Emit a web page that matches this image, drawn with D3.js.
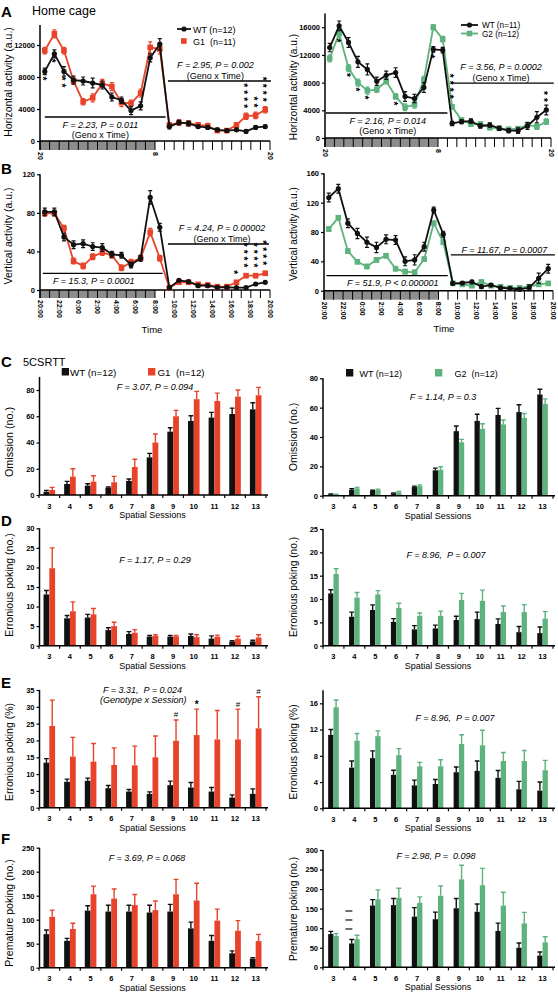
<!DOCTYPE html>
<html><head><meta charset="utf-8">
<script src="https://cdn.jsdelivr.net/npm/d3@7"></script>
<style>body{margin:0;background:#fff}text{font-family:"Liberation Sans",Arial,Helvetica,sans-serif;white-space:pre}</style>
</head><body>
<script>
// ---------------- DATA ----------------
const hourSlots = [0,1,2,3,4,5,6,7,8,9,10,11,12,13,14,15,16,17,18,19,20,21,22,23];
const shortTimeHours = [0,12,24];
const shortTimeLabels = ["20","8","20"];
const longTimeHours = [0,2,4,6,8,10,12,14,16,18,20,22,24];
const longTimeLabels = ["20:00","22:00","0:00","2:00","4:00","6:00","8:00","10:00","12:00","14:00","16:00","18:00","20:00"];

// A left: horizontal activity WT vs G1
const horizWT1 = [8700,10900,8700,7600,7500,7250,7000,5500,5100,3800,4400,10400,12100,1800,2300,2200,1800,1700,1400,1300,1400,1200,1700,1800];
const horizWT1Err = [400,500,600,500,500,600,500,500,400,500,500,500,700,300,300,300,200,200,200,200,200,200,200,200];
const horizG1 = [11300,13400,11300,7500,4900,5400,7200,6800,4800,4700,6000,11700,11500,2000,2300,2200,2000,1900,1300,1300,2000,3100,3200,3900];
const horizG1Err = [400,500,400,400,400,500,500,500,500,400,500,700,600,300,300,300,300,300,200,200,300,400,400,400];
// A right: WT vs G2
const horizWT2 = [13060,16200,13800,11000,9900,8200,9060,9450,6000,5700,7300,12800,12700,2100,2360,2450,1740,1880,1400,1060,1060,1740,3000,4050];
const horizWT2Err = [600,700,700,800,800,600,600,700,700,600,700,400,400,300,300,300,300,300,300,300,400,500,800,700];
const horizG2 = [11500,15100,10100,8000,6850,7000,8200,6000,4450,4800,8400,16000,14270,4500,2600,2020,2020,1500,1400,1250,1350,1900,1650,2360];
const horizG2Err = [500,600,500,500,500,400,400,400,500,500,500,400,400,300,300,300,300,300,300,300,300,400,400,400];
// B left: vertical activity WT vs G1
const vertWT1 = [81,81,55,47,48,45,44,37,36,26,33,96,65,2.4,10,8.6,4.5,4.5,2.8,2.8,2.4,2.4,6.2,8];
const vertWT1Err = [4,4,4,4,4,4,4,3,3,3,3,7,4,1,1,1,1,1,1,1,1,1,1,1];
const vertG1 = [79.5,79.5,64,30,25,34.6,39,36,23,28.7,33,60,33,2.4,8,8,5.9,5.2,3.5,3.5,8,14.9,14.9,17.3];
const vertG1Err = [3,3,3,3,3,3,3,3,3,3,3,4,3,1,1,1,1,1,1,1,1,2,2,2];
// B right: WT vs G2
const vertWT2 = [127,139,92,78,66,59,70,69,40,42,60,110,77,10,10.5,12,5.5,7.7,4,3,2,4,17,30];
const vertWT2Err = [6,6,6,7,7,7,6,6,6,7,6,4,4,2,2,2,2,2,2,2,2,4,7,6];
const vertG2 = [84,99.5,54,39.5,33,42,47.7,30,26,25,43,92,66,10,8.6,6.8,12,6.8,5.5,4,4,5.5,8.6,10];
const vertG2Err = [3,3,3,3,3,3,3,3,3,3,3,3,3,2,2,2,2,2,2,2,2,2,2,2];

// 5CSRTT sessions
const sessions = [3,4,5,6,7,8,9,10,11,12,13];
const omiWT1 = [2.5,8.4,7.1,5.6,10.7,28.7,48.3,56.4,59,61.7,65.3];
const omiWT1Err = [1,2,1.5,0.5,1.5,3,3,4,4,4.5,5];
const omiG1 = [3.8,14,10.2,9.7,21.3,40,60,73,71.6,75,76];
const omiG1Err = [2,6,4.5,4.5,6,6.5,4.5,6,6,5,6];
const omiWT2 = [0.9,3.9,3.2,1.6,5.9,17.3,44,51,55,57,69];
const omiWT2Err = [0.3,0.8,0.5,0.3,0.6,1.5,3.5,4.5,4.5,5,3.5];
const omiG2 = [0.7,5,3.9,2.3,6.6,17.7,36.4,45.5,48.6,53,62.5];
const omiG2Err = [0.3,0.6,0.6,0.6,0.8,2,2,3.5,3,3,3.5];

const errNoWT1 = [13.1,7.0,7.2,4.0,3.0,2.3,2.3,2.5,1.8,1.1,1.1];
const errNoWT1Err = [1,0.7,0.8,0.6,0.6,0.3,0.3,0.5,0.7,0.2,0.3];
const errNoG1 = [19.8,8.8,8.0,5.0,3.3,2.5,2.4,2.2,2.3,1.8,2.1];
const errNoG1Err = [5.2,2.4,1.5,1.0,0.8,0.3,0.2,0.6,0.4,0.6,0.7];
const errNoWT2 = [11.2,6.2,7.65,5.1,3.5,3.7,5.5,5.7,4.65,2.9,2.7];
const errNoWT2Err = [0.8,1.0,1.1,0.7,0.8,0.7,0.8,1.5,1.1,1.2,1.3];
const errNoG2 = [15.4,10.3,11.0,8.1,6.4,6.4,9.8,9.6,7.2,7.2,5.8];
const errNoG2Err = [1.1,1.1,0.8,1.0,0.6,1.0,1.4,2.3,1.3,1.6,1.5];

const errPctWT1 = [13.4,7.7,8.0,5.8,4.8,4.1,6.7,6.0,4.8,3.0,4.1];
const errPctWT1Err = [1.2,0.8,0.8,0.8,0.6,0.6,1.2,1.5,1.2,0.8,1.5];
const errPctG1 = [24.3,15.2,13.7,12.7,12.6,15.0,19.9,21.6,20.3,20.3,23.6];
const errPctG1Err = [7.7,5.7,5.4,5.1,5.7,6.3,6.2,7.7,8.6,9.0,9.4];
const errPctSig = [{s:9,m:"#"},{s:10,m:"*"},{s:12,m:"#"},{s:13,m:"#"}];

const premWT1 = [70,56,119,117,117,115,117,82,56,30,19];
const premWT1Err = [8.5,5,10,13,13,15,15,13,11,5,2];
const premG1 = [106,80.6,153,144,130.5,120,153,140,98,77,55.5];
const premG1Err = [14,12,17,20,22,19,31,36,24,21,14];
const premWT2 = [85,61,158,159,129.5,123,151,142,93,50,30];
const premWT2Err = [7,10,15,17,23,18,25,20,20,12,9];
const premG2 = [80,72,174,178,165,183,225,210,158,112.5,64];
const premG2Err = [6,10,24,24,15,25,36,43,34,28,14];
const premDashes = [144,121,98];

// ---------------- DRAWING ----------------
const RED="#e8432a", GREEN="#5db27d", BLACK="#111111";
const svg=d3.select("body").append("svg").attr("width",558).attr("height",992);
svg.append("rect").attr("width",558).attr("height",992).attr("fill","#fff");

function txt(g,x,y,s,o={}){
  return g.append("text").attr("x",x).attr("y",y).text(s)
   .attr("font-size",o.size||9).attr("font-style",o.italic?"italic":null)
   .attr("font-weight",o.bold?"bold":null).attr("text-anchor",o.anchor||"start").attr("fill","#000");
}
function vtitle(g,x,y,s,size){
  g.append("text").attr("transform",`translate(${x},${y}) rotate(-90)`).attr("text-anchor","middle")
   .attr("font-size",size||10.5).text(s);
}
function styleAxis(ax){
  ax.select(".domain").remove();
  ax.attr("font-family","Liberation Sans, Arial, sans-serif").attr("font-size",7.5).attr("font-weight","bold");
  ax.selectAll("line").attr("stroke","#000").attr("stroke-width",1.2);
  ax.selectAll("text").attr("fill","#000");
}
// vertical stack of asterisks drawn as one rotated text run
function starStack(g,x,top,n){
  g.append("text").attr("transform",`translate(${x},${top-2}) rotate(90)`)
   .attr("dy","0.6em").attr("font-size",10).attr("font-weight","bold")
   .attr("letter-spacing",3.1).attr("fill","#000").text("*".repeat(n));
}

function timePanel(o){
  const g=svg.append("g");
  const x=d3.scaleLinear().domain([0,24]).range([o.x0,o.x1]);
  const y=d3.scaleLinear().domain([0,o.ymax]).range([o.base,o.top]);
  const bb=o.base+o.barH;
  g.append("rect").attr("x",x(0)).attr("y",o.base).attr("width",x(12)-x(0)).attr("height",o.barH).attr("fill","#8d8d8d");
  g.selectAll(null).data(d3.range(25)).join("line")
   .attr("x1",d=>x(d)).attr("x2",d=>x(d)).attr("y1",o.base).attr("y2",bb).attr("stroke","#000").attr("stroke-width",1);
  g.append("line").attr("x1",x(0)).attr("x2",x(24)).attr("y1",o.base).attr("y2",o.base).attr("stroke","#000").attr("stroke-width",1.6);
  const ax=g.append("g").attr("transform",`translate(${x(0)},0)`)
   .call(d3.axisLeft(y).tickValues(o.ticks).tickSize(3).tickPadding(2).tickFormat(d3.format("d")));
  styleAxis(ax);
  g.append("line").attr("x1",x(0)).attr("x2",x(0)).attr("y1",y(o.ymax)).attr("y2",bb).attr("stroke","#000").attr("stroke-width",1.5);
  o.xh.forEach((h,i)=>{
    g.append("text").attr("transform",`translate(${x(h)},${bb+2}) rotate(90)`).attr("dy","0.35em")
     .attr("font-size",7).attr("font-weight","bold").text(o.xl[i]);
  });
  const series=[{v:o.g,e:o.gErr,c:o.color,shape:"sq"},{v:o.wt,e:o.wtErr,c:BLACK,shape:"ci"}];
  series.forEach(sr=>{
    const pts=hourSlots.map((s,i)=>({h:s+0.5,v:sr.v[i],e:sr.e[i]}));
    g.append("path").datum(pts).attr("d",d3.line().x(d=>x(d.h)).y(d=>y(d.v)))
     .attr("fill","none").attr("stroke",sr.c).attr("stroke-width",1.8);
    g.selectAll(null).data(pts).join("path")
     .attr("d",d=>`M${x(d.h)},${y(Math.max(0,d.v-d.e))}V${y(d.v+d.e)}M${x(d.h)-2},${y(d.v+d.e)}h4M${x(d.h)-2},${y(Math.max(0,d.v-d.e))}h4`)
     .attr("stroke",sr.c).attr("stroke-width",1.2).attr("fill","none");
    if(sr.shape==="ci"){
      g.selectAll(null).data(pts).join("circle").attr("cx",d=>x(d.h)).attr("cy",d=>y(d.v)).attr("r",2.6).attr("fill",sr.c);
    } else {
      g.selectAll(null).data(pts).join("rect").attr("x",d=>x(d.h)-2.8).attr("y",d=>y(d.v)-2.8).attr("width",5.6).attr("height",5.6).attr("fill",sr.c);
    }
  });
  (o.notes||[]).forEach(n=>{
    const ly=y(n.v);
    g.append("line").attr("x1",x(n.h0)).attr("x2",x(n.h1)).attr("y1",ly).attr("y2",ly).attr("stroke","#000").attr("stroke-width",1.3);
    n.lines.forEach((s,i)=>{
      const by = n.pos==="below" ? ly+10.5+i*10 : ly-2-(n.lines.length-1-i)*11.5;
      txt(g,x(n.hc),by,s,{size:9,italic:i===0,anchor:"middle"});
    });
  });
  (o.stars||[]).forEach(st=>{
    const v = st.ref==="wt"? o.wt[st.i] : o.g[st.i];
    const top = st.dir==="below" ? y(v)+7 : y(v)-10-(st.n-1)*7;
    starStack(g,x(hourSlots[st.i]+0.5),top,st.n);
  });
  return {g,x,y};
}

function barPanel(o){
  const g=svg.append("g");
  const x=d3.scaleBand().domain(sessions).range([o.x0,o.x1]);
  const sub=d3.scaleBand().domain(["wt","g"]).range([-o.bw,o.bw]);
  const y=d3.scaleLinear().domain([0,o.ymax]).range([o.base,o.top]);
  const cx=s=>x(s)+x.bandwidth()/2;
  const series=[{k:"wt",v:o.wt,e:o.wtErr,c:BLACK},{k:"g",v:o.g,e:o.gErr,c:o.color}];
  series.forEach(sr=>{
    const d=sessions.map((s,i)=>({s,v:sr.v[i],e:sr.e[i]}));
    g.selectAll(null).data(d).join("path")
     .attr("d",d=>{const xc=cx(d.s)+sub(sr.k)+sub.bandwidth()/2;return `M${xc},${y(d.v)}V${y(d.v+d.e)}M${xc-2.4},${y(d.v+d.e)}h4.8`;})
     .attr("stroke",sr.c).attr("stroke-width",1.4).attr("fill","none");
    g.selectAll(null).data(d).join("rect").attr("x",d=>cx(d.s)+sub(sr.k)).attr("y",d=>y(d.v))
     .attr("width",sub.bandwidth()).attr("height",d=>o.base-y(d.v)).attr("fill",sr.c);
  });
  g.append("line").attr("x1",o.yx).attr("x2",o.x1+2).attr("y1",o.base).attr("y2",o.base).attr("stroke","#000").attr("stroke-width",1.5);
  const bounds=sessions.map(s=>x(s)).concat([x(sessions[sessions.length-1])+x.step()]);
  g.selectAll(null).data(bounds).join("line").attr("x1",d=>d).attr("x2",d=>d).attr("y1",o.base).attr("y2",o.base+3).attr("stroke","#000").attr("stroke-width",1.2);
  sessions.forEach(s=>txt(g,cx(s),o.base+13.5,String(s),{size:7.5,bold:true,anchor:"middle"}));
  txt(g,(o.x0+o.x1)/2,o.base+23,"Spatial Sessions",{size:9,anchor:"middle"});
  const ax=g.append("g").attr("transform",`translate(${o.yx},0)`)
   .call(d3.axisLeft(y).tickValues(o.ticks).tickSize(3).tickPadding(2).tickFormat(d3.format("d")));
  styleAxis(ax);
  g.append("line").attr("x1",o.yx).attr("x2",o.yx).attr("y1",y(o.ymax)).attr("y2",o.base).attr("stroke","#000").attr("stroke-width",1.5);
  return {g,x,y,cx,sub};
}

// ---- Panel letters and headings ----
const L=svg.append("g");
txt(L,1,17,"A",{size:15,bold:true});
txt(L,32,15,"Home cage",{size:12.5});
txt(L,1,174,"B",{size:15,bold:true});
txt(L,1,367,"C",{size:15,bold:true});
txt(L,23,366,"5CSRTT",{size:11});
txt(L,1,526,"D",{size:15,bold:true});
txt(L,1,688,"E",{size:15,bold:true});
txt(L,1,844,"F",{size:15,bold:true});

// ---- A left ----
const aL=timePanel({x0:40,x1:270,base:141,top:25,ymax:14500,barH:9,ticks:[0,4000,8000,12000],
  xh:shortTimeHours,xl:shortTimeLabels,wt:horizWT1,wtErr:horizWT1Err,g:horizG1,gErr:horizG1Err,color:RED,
  notes:[{h0:0.5,h1:13.1,v:3000,lines:["F = 2.23, P = 0.011","(Geno x Time)"],pos:"below",hc:6.3},
         {h0:13.35,h1:24.1,v:7500,lines:["F = 2.95, P = 0.002","(Geno x Time)"],pos:"above",hc:18.3}],
  stars:[{i:0,n:1,ref:"wt",dir:"below"},{i:1,n:1,ref:"wt",dir:"below"},{i:2,n:2,ref:"wt",dir:"below"},
         {i:21,n:4,ref:"g",dir:"above"},{i:22,n:2,ref:"g",dir:"above"},{i:23,n:4,ref:"g",dir:"above"}]});
vtitle(svg,12,82,"Horizontal activity (a.u.)",10.5);
{
  const g=aL.g;
  g.append("line").attr("x1",177).attr("x2",191).attr("y1",29).attr("y2",29).attr("stroke",BLACK).attr("stroke-width",1.8);
  g.append("circle").attr("cx",184).attr("cy",29).attr("r",2.6).attr("fill",BLACK);
  txt(g,193,32.5,"WT (n=12)",{size:9});
  g.append("rect").attr("x",181).attr("y",38.2).attr("width",5.6).attr("height",5.6).attr("fill",RED);
  txt(g,193,44.5,"G1  (n=11)",{size:9});
}

// ---- A right ----
const aR=timePanel({x0:325,x1:551,base:138,top:13.4,ymax:18000,barH:9,ticks:[0,4000,8000,12000,16000],
  xh:shortTimeHours,xl:shortTimeLabels,wt:horizWT2,wtErr:horizWT2Err,g:horizG2,gErr:horizG2Err,color:GREEN,
  notes:[{h0:0.1,h1:13.0,v:3610,lines:["F = 2.16, P = 0.014","(Geno x Time)"],pos:"below",hc:6.67},
         {h0:13.4,h1:24.3,v:7940,lines:["F = 3.56, P = 0.0002","(Geno x Time)"],pos:"above",hc:18.7}],
  stars:[{i:1,n:1,ref:"g",dir:"below"},{i:2,n:1,ref:"g",dir:"below"},{i:3,n:1,ref:"g",dir:"below"},
         {i:4,n:1,ref:"g",dir:"below"},{i:7,n:1,ref:"g",dir:"below"},{i:11,n:1,ref:"wt",dir:"below"},
         {i:13,n:4,ref:"g",dir:"above"},{i:23,n:2,ref:"wt",dir:"above"}]});
vtitle(svg,297,87,"Horizontal activity (a.u.)",10.2);
{
  const g=aR.g;
  g.append("line").attr("x1",461).attr("x2",478).attr("y1",25).attr("y2",25).attr("stroke",BLACK).attr("stroke-width",1.8);
  g.append("circle").attr("cx",469.5).attr("cy",25).attr("r",2.6).attr("fill",BLACK);
  txt(g,482,28,"WT (n=11)",{size:8.2});
  g.append("line").attr("x1",461).attr("x2",478).attr("y1",33.5).attr("y2",33.5).attr("stroke",GREEN).attr("stroke-width",1.8);
  g.append("rect").attr("x",466.7).attr("y",30.7).attr("width",5.6).attr("height",5.6).attr("fill",GREEN);
  txt(g,482,36.5,"G2 (n=12)",{size:8.2});
}

// ---- B left ----
timePanel({x0:40,x1:270,base:290,top:174.3,ymax:120,barH:8,ticks:[0,40,80,120],
  xh:longTimeHours,xl:longTimeLabels,wt:vertWT1,wtErr:vertWT1Err,g:vertG1,gErr:vertG1Err,color:RED,
  notes:[{h0:0.3,h1:12.8,v:17.3,lines:["F = 15.3, P = 0.0001"],pos:"below",hc:5.6},
         {h0:13.35,h1:23.9,v:47.7,lines:["F = 4.24, P = 0.00002","(Geno x Time)"],pos:"above",hc:19.0}],
  stars:[{i:20,n:1,ref:"g",dir:"above"},{i:21,n:4,ref:"g",dir:"above"},{i:22,n:4,ref:"g",dir:"above"},{i:23,n:4,ref:"g",dir:"above"}]});
vtitle(svg,12,236,"Vertical activity (a.u.)",10.5);
txt(svg,152,333,"Time",{size:9.5,anchor:"middle"});

// ---- B right ----
timePanel({x0:324,x1:553,base:290.7,top:173.3,ymax:160,barH:9,ticks:[0,40,80,120,160],
  xh:longTimeHours,xl:longTimeLabels,wt:vertWT2,wtErr:vertWT2Err,g:vertG2,gErr:vertG2Err,color:GREEN,
  notes:[{h0:0.25,h1:12.97,v:20.5,lines:["F = 51.9, P < 0.000001"],pos:"below",hc:7.2},
         {h0:13.3,h1:24.2,v:48.7,lines:["F = 11.67, P = 0.0007"],pos:"above",hc:18.9}]});
vtitle(svg,297,234,"Vertical activity (a.u.)",10.2);
txt(svg,444,332,"Time",{size:9.5,anchor:"middle"});

// ---- C ----
barPanel({x0:39,x1:266,yx:39.5,base:495,top:376.9,ymax:90,ticks:[0,20,40,60,80],bw:5.8,
  wt:omiWT1,wtErr:omiWT1Err,g:omiG1,gErr:omiG1Err,color:RED});
vtitle(svg,13,442,"Omission (no.)",10.8);
txt(svg,155,390,"F = 3.07, P = 0.094",{size:9,italic:true,anchor:"middle"});
svg.append("rect").attr("x",61.7).attr("y",368).attr("width",7.3).attr("height",7.5).attr("fill",BLACK);
txt(svg,70,376,"WT (n=12)",{size:9.8});
svg.append("rect").attr("x",148).attr("y",368).attr("width",7.3).attr("height",7.5).attr("fill",RED);
txt(svg,157.5,376,"G1  (n=12)",{size:9.8});

barPanel({x0:323,x1:553,yx:323,base:495.7,top:378.3,ymax:80,ticks:[0,20,40,60,80],bw:5.3,
  wt:omiWT2,wtErr:omiWT2Err,g:omiG2,gErr:omiG2Err,color:GREEN});
vtitle(svg,297,437,"Omission (no.)",10.5);
txt(svg,443,400,"F = 1.14, P = 0.3",{size:9,italic:true,anchor:"middle"});
svg.append("rect").attr("x",346).attr("y",369).attr("width",7.3).attr("height",7.5).attr("fill",BLACK);
txt(svg,359.5,377,"WT (n=12)",{size:9});
svg.append("rect").attr("x",435).attr("y",369).attr("width",7.3).attr("height",7.5).attr("fill",GREEN);
txt(svg,454.5,377,"G2  (n=12)",{size:9});

// ---- D ----
barPanel({x0:39,x1:266,yx:39.5,base:645.7,top:528.3,ymax:30,ticks:[0,5,10,15,20,25,30],bw:5.8,
  wt:errNoWT1,wtErr:errNoWT1Err,g:errNoG1,gErr:errNoG1Err,color:RED});
vtitle(svg,13,585,"Erronious poking (no.)",10.5);
txt(svg,155,562.5,"F = 1.17, P = 0.29",{size:9,italic:true,anchor:"middle"});

barPanel({x0:323,x1:553,yx:323,base:645.7,top:529,ymax:25,ticks:[0,5,10,15,20,25],bw:5.3,
  wt:errNoWT2,wtErr:errNoWT2Err,g:errNoG2,gErr:errNoG2Err,color:GREEN});
vtitle(svg,297,587,"Erronious poking (no.)",10.2);
txt(svg,446,558,"F = 8.96,  P = 0.007",{size:9,italic:true,anchor:"middle"});

// ---- E ----
const eL=barPanel({x0:39,x1:266,yx:39.5,base:807.7,top:690,ymax:35,ticks:[0,5,10,15,20,25,30,35],bw:5.8,
  wt:errPctWT1,wtErr:errPctWT1Err,g:errPctG1,gErr:errPctG1Err,color:RED});
vtitle(svg,13,752,"Erronious poking (%)",10.5);
txt(svg,103,693,"F = 3.31,  P = 0.024",{size:9,italic:true});
txt(svg,100,702.5,"(Genotype x Session)",{size:9,italic:true});
errPctSig.forEach(d=>{
  const i=sessions.indexOf(d.s);
  const xc=eL.cx(d.s)+eL.sub("g")+eL.sub.bandwidth()/2;
  txt(eL.g,xc,eL.y(errPctG1[i]+errPctG1Err[i])-6+(d.m==="*"?5:3.5),d.m,{size:d.m==="*"?10:8,anchor:"middle",bold:d.m==="*"});
});

barPanel({x0:323,x1:553,yx:323,base:808.3,top:690.2,ymax:18,ticks:[0,4,8,12,16],bw:5.3,
  wt:errNoWT2,wtErr:errNoWT2Err,g:errNoG2,gErr:errNoG2Err,color:GREEN});
vtitle(svg,297,752,"Erronious poking (%)",10.2);
txt(svg,455,720.5,"F = 8.96,  P = 0.007",{size:9,italic:true,anchor:"middle"});

// ---- F ----
barPanel({x0:39,x1:266,yx:39.5,base:967.7,top:847.7,ymax:250,ticks:[0,50,100,150,200,250],bw:5.8,
  wt:premWT1,wtErr:premWT1Err,g:premG1,gErr:premG1Err,color:RED});
vtitle(svg,13,913,"Premature poking (no.)",10.5);
txt(svg,147,861,"F = 3.69, P = 0.068",{size:9,italic:true,anchor:"middle"});

const fR=barPanel({x0:323,x1:553,yx:323,base:967.3,top:850,ymax:300,ticks:[0,50,100,150,200,250,300],bw:5.3,
  wt:premWT2,wtErr:premWT2Err,g:premG2,gErr:premG2Err,color:GREEN});
vtitle(svg,297,909,"Premature poking (no.)",10.2);
txt(svg,436,859,"F = 2.98, P =  0.098",{size:9,italic:true,anchor:"middle"});
fR.g.selectAll(null).data(premDashes).join("line")
  .attr("x1",fR.cx(4)-9).attr("x2",fR.cx(4)-2).attr("y1",d=>fR.y(d)).attr("y2",d=>fR.y(d))
  .attr("stroke","#222").attr("stroke-width",1.3);
</script>
</body></html>
